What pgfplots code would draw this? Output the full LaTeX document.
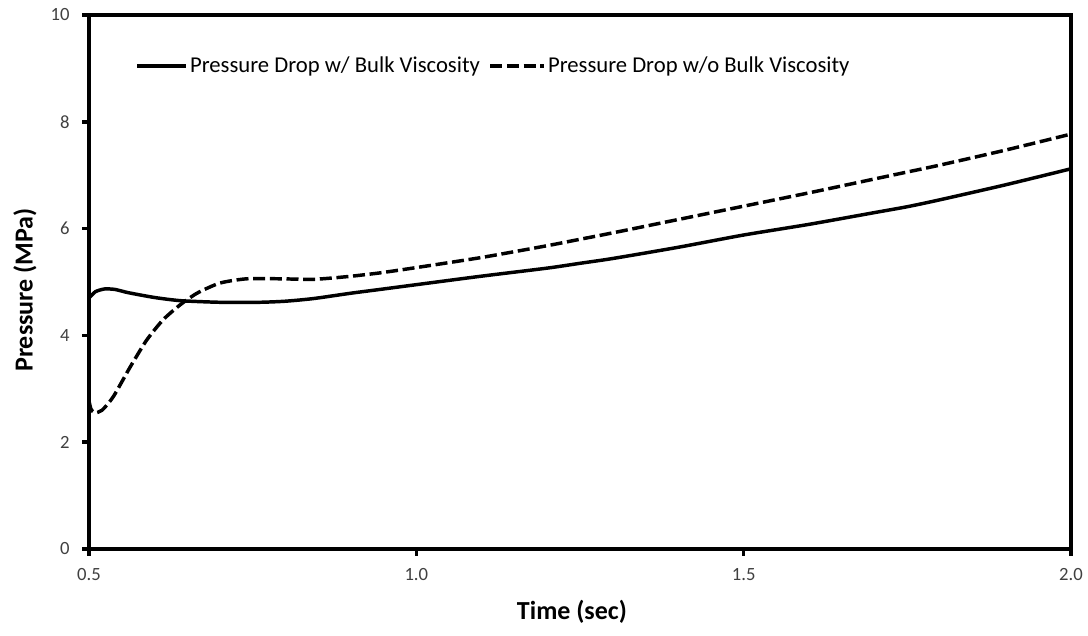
\documentclass[border=0pt]{standalone}
\usepackage{fontspec}
\setmainfont{Carlito}
\usepackage{pgfplots}
\pgfplotsset{compat=1.18}
\newcommand{\tickfont}{\fontsize{14}{16}\selectfont}
\pgfplotsset{
  solidleg/.style={legend image code/.code={\draw[##1] (0pt,0pt) -- (37pt,0pt);}},
  dashleg/.style={legend image code/.code={\draw[##1] (0pt,0pt) -- (40.5pt,0pt);}},
}
\begin{document}
\begin{tikzpicture}
\begin{axis}[
  scale only axis,
  width=736.5pt, height=400.5pt,
  xmin=0.5, xmax=2.0, ymin=0, ymax=10,
  xtick={0.5,1.0,1.5,2.0},
  ytick={0,2,4,6,8,10},
  xticklabels={0.5,1.0,1.5,2.0},
  yticklabels={0,2,4,6,8,10},
  xtick pos=bottom, ytick pos=left,
  /pgf/number format/assume math mode=true,
  axis line style={line width=2.6pt},
  tick align=outside,
  tick style={line width=2.6pt, black},
  major tick length=5pt,
  xticklabel style={font=\tickfont, text=black!75, yshift=-6pt},
  yticklabel style={font=\tickfont, text=black!75, xshift=-6pt},
  xlabel={Time (sec)},
  ylabel={Pressure (MPa)},
  label style={font=\fontsize{19.5}{22}\selectfont\bfseries},
  xlabel style={at={([yshift=-47pt]axis description cs:0.4918,0)}, anchor=center},
  ylabel style={at={([xshift=-48pt]axis description cs:0,0.485)}, anchor=center},
  legend columns=2,
  legend style={draw=none, fill=none, font=\fontsize{17}{20}\selectfont,
    at={([xshift=34.5pt,yshift=-38.25pt]axis description cs:0,1)}, anchor=west,
    inner sep=0pt, nodes={inner sep=1.5pt},
    /tikz/every even column/.append style={column sep=5pt}},
  clip=true,
]
\coordinate (bl) at (rel axis cs:0,0);
\coordinate (tr) at (rel axis cs:1,1);
\addplot[black, line width=2.6pt, smooth, tension=0.4, solidleg] coordinates {
(0.500,4.70) (0.510,4.82) (0.524,4.87) (0.540,4.86) (0.560,4.80)
(0.600,4.71) (0.640,4.65) (0.700,4.62) (0.760,4.62) (0.800,4.64)
(0.843,4.69) (0.900,4.79) (0.944,4.86) (1.000,4.95) (1.100,5.11)
(1.200,5.26) (1.250,5.35) (1.300,5.44) (1.400,5.65) (1.500,5.88)
(1.600,6.08) (1.700,6.30) (1.750,6.41) (1.800,6.54) (1.900,6.82)
(2.000,7.12)};
\addlegendentry{Pressure Drop w/ Bulk Viscosity}
\addplot[black, line width=2.6pt, dash pattern=on 9pt off 3.5pt, smooth, tension=0.4, dashleg] coordinates {
(0.500,2.78) (0.503,2.62) (0.509,2.55) (0.520,2.60) (0.537,2.85)
(0.563,3.41) (0.588,3.91) (0.613,4.29) (0.639,4.57) (0.665,4.79)
(0.700,4.98) (0.741,5.06) (0.792,5.06) (0.843,5.05) (0.894,5.10)
(0.944,5.17) (1.000,5.27) (1.100,5.46) (1.200,5.68) (1.250,5.80)
(1.300,5.92) (1.400,6.17) (1.500,6.42) (1.600,6.67) (1.700,6.93)
(1.750,7.06) (1.800,7.19) (1.900,7.47) (2.000,7.77)};
\addlegendentry{Pressure Drop w/o Bulk Viscosity}
\end{axis}
\pgfresetboundingbox
\path[use as bounding box] ([xshift=-66.75pt,yshift=-64.5pt]bl) rectangle ([xshift=12.75pt,yshift=11.25pt]tr);
\end{tikzpicture}
\end{document}
